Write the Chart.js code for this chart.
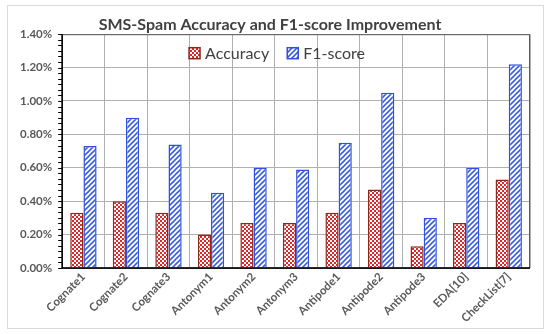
<!DOCTYPE html>
<html>
<head>
<meta charset="utf-8">
<script src="https://cdn.jsdelivr.net/npm/chart.js@4.4.0/dist/chart.umd.min.js"></script>
<style>
  body { margin: 0; background: #fff; }
  #wrap { width: 550px; height: 334px; }
</style>
</head>
<body>
<div id="wrap"><canvas id="myChart" width="550" height="334"></canvas></div>
<script>
var categories = ['Cognate1', 'Cognate2', 'Cognate3', 'Antonym1', 'Antonym2', 'Antonym3',
                  'Antipode1', 'Antipode2', 'Antipode3', 'EDA[10]', 'CheckList[7]'];
var accuracy = [0.33, 0.40, 0.33, 0.20, 0.27, 0.27, 0.33, 0.47, 0.13, 0.27, 0.53];
var f1score  = [0.73, 0.90, 0.74, 0.45, 0.60, 0.59, 0.75, 1.05, 0.30, 0.60, 1.22];
var yTicks = [0, 0.2, 0.4, 0.6, 0.8, 1.0, 1.2, 1.4];

var FONT = "Lato, 'Liberation Sans', sans-serif";

// red/white checkerboard
function checkPattern() {
    var c = document.createElement('canvas');
    c.width = 4; c.height = 4;
    var g = c.getContext('2d');
    g.fillStyle = '#ffffff';
    g.fillRect(0, 0, 4, 4);
    g.fillStyle = '#e0262a';
    g.fillRect(0, 0, 2, 2);
    g.fillRect(2, 2, 2, 2);
    return g.createPattern(c, 'repeat');
}

// blue diagonal hatch
function hatchPattern() {
    var c = document.createElement('canvas');
    c.width = 5; c.height = 5;
    var g = c.getContext('2d');
    g.fillStyle = '#ffffff';
    g.fillRect(0, 0, 5, 5);
    g.strokeStyle = '#3b5fe0';
    g.lineWidth = 1.6;
    g.beginPath();
    g.moveTo(0, 5); g.lineTo(5, 0);
    g.moveTo(-1, 1); g.lineTo(1, -1);
    g.moveTo(4, 6); g.lineTo(6, 4);
    g.stroke();
    return g.createPattern(c, 'repeat');
}

var frame = {
    id: 'frame',
    beforeDraw: function(chart) {
        var ctx = chart.ctx;
        ctx.save();
        ctx.strokeStyle = '#d9d9d9';
        ctx.lineWidth = 1;
        ctx.strokeRect(7.5, 5.5, 536, 323);
        ctx.restore();
    },
    afterDatasetsDraw: function(chart) {
        var ctx = chart.ctx, a = chart.chartArea, y = chart.scales.y;
        ctx.save();
        // plot border
        ctx.strokeStyle = '#595959';
        ctx.lineWidth = 1;
        ctx.strokeRect(a.left, a.top + 0.5, a.right - a.left - 0.5, a.bottom - a.top);
        // axis lines and minor ticks
        ctx.strokeStyle = '#000';
        ctx.lineWidth = 1.5;
        ctx.beginPath();
        ctx.moveTo(a.left, a.top);
        ctx.lineTo(a.left, a.bottom);
        ctx.lineTo(a.right, a.bottom);
        ctx.stroke();
        ctx.lineWidth = 1;
        for (var v = 0; v <= 1.4001; v += 0.2 / 6) {
            var py = Math.round(y.getPixelForValue(v)) + 0.5;
            ctx.beginPath();
            ctx.moveTo(a.left - 4, py);
            ctx.lineTo(a.left, py);
            ctx.stroke();
        }

        // legend inside the plot
        ctx.font = '16px ' + FONT;
        ctx.textBaseline = 'middle';
        var items = chart.data.datasets;
        var box = 11, gap = 5, space = 18;
        var total = 0;
        items.forEach(function(d, i) {
            total += box + gap + ctx.measureText(d.label).width + (i ? space : 0);
        });
        var x = chart.width / 2 - total / 2 + 2;
        var ly = a.top + 19;
        items.forEach(function(d, i) {
            if (i) x += space;
            ctx.fillStyle = d.backgroundColor;
            ctx.fillRect(x, ly - box / 2, box, box);
            ctx.strokeStyle = d.borderColor;
            ctx.lineWidth = 1.5;
            ctx.strokeRect(x, ly - box / 2, box, box);
            x += box + gap;
            ctx.fillStyle = '#404040';
            ctx.fillText(d.label, x, ly + 1);
            x += ctx.measureText(d.label).width;
        });
        ctx.restore();
    }
};

document.addEventListener("DOMContentLoaded", function() {
    var ctx = document.getElementById('myChart').getContext('2d');
    var myChart = new Chart(ctx, {
        type: 'bar',
        data: {
            labels: categories,
            datasets: [{
                label: 'Accuracy',
                data: accuracy,
                backgroundColor: checkPattern(),
                borderColor: '#8b2a1a',
                borderWidth: 1.5,
                borderSkipped: 'bottom'
            }, {
                label: 'F1-score',
                data: f1score,
                backgroundColor: hatchPattern(),
                borderColor: '#3050e0',
                borderWidth: 1.5,
                borderSkipped: 'bottom'
            }]
        },
        options: {
            responsive: false,
            animation: false,
            categoryPercentage: 0.62,
            barPercentage: 1.0,
            layout: { padding: { left: 10, right: 20, top: 4, bottom: 7 } },
            plugins: {
                title: {
                    display: true,
                    text: 'SMS-Spam Accuracy and F1-score Improvement',
                    color: '#404040',
                    font: { family: FONT, size: 16, weight: 'bold' },
                    padding: { top: 11, bottom: 0 }
                },
                legend: { display: false },
                tooltip: { enabled: false }
            },
            scales: {
                x: {
                    grid: { color: '#b0b0b0', drawTicks: false, offset: true },
                    border: { display: false },
                    ticks: {
                        color: '#595959',
                        font: { family: FONT, size: 11.5, weight: 'bold' },
                        minRotation: 45,
                        maxRotation: 45,
                        autoSkip: false,
                        padding: 2
                    }
                },
                y: {
                    min: 0,
                    max: 1.4,
                    afterBuildTicks: function(scale) {
                        scale.ticks = yTicks.map(function(v) { return { value: v }; });
                    },
                    grid: { color: '#b0b0b0', drawTicks: false },
                    border: { display: false },
                    ticks: {
                        color: '#595959',
                        font: { family: FONT, size: 11.5, weight: 'bold' },
                        padding: 10,
                        callback: function(v) { return v.toFixed(2) + '%'; }
                    }
                }
            }
        },
        plugins: [frame]
    });
});
</script>
</body>
</html>
